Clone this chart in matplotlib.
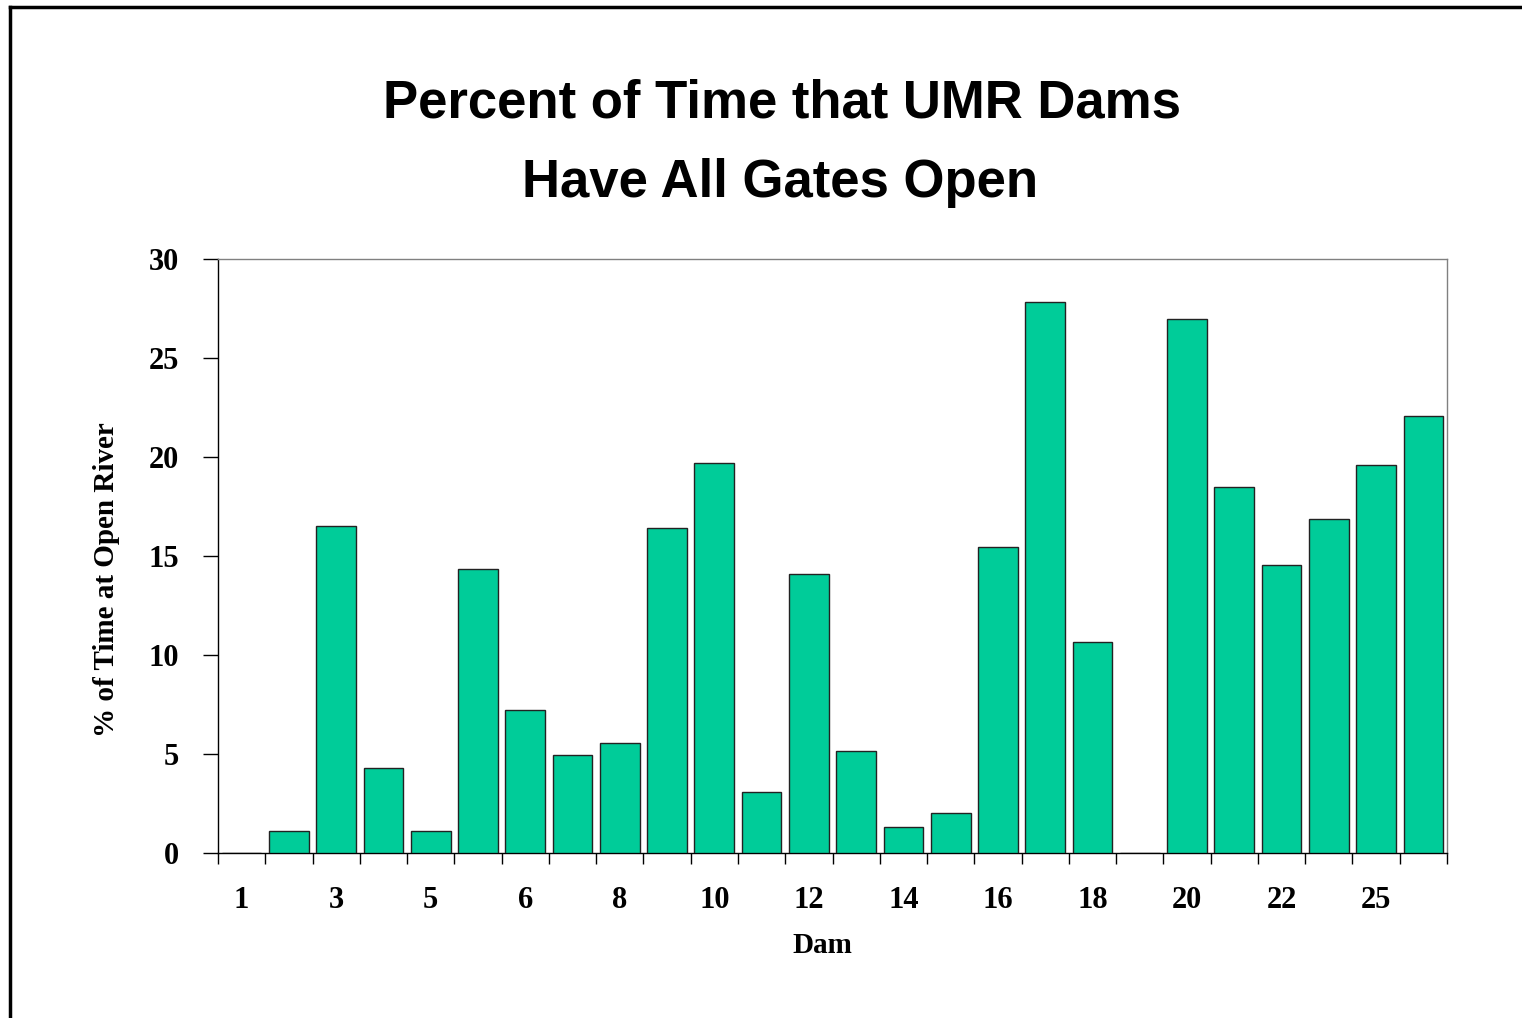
import matplotlib
matplotlib.use("Agg")
import matplotlib.pyplot as plt
import numpy as np
from matplotlib.lines import Line2D

# Dams along the Upper Mississippi River, upstream to downstream
dams = ["1", "2", "3", "4", "5", "5A", "6", "7", "8", "9", "10", "11", "12",
        "13", "14", "15", "16", "17", "18", "19", "20", "21", "22", "24", "25", "26"]
# percent of time at open river (all gates open)
pct_open = [0.0, 1.1, 16.5, 4.3, 1.1, 14.35, 7.2, 4.95, 5.55, 16.4, 19.7, 3.1, 14.1,
            5.15, 1.3, 2.0, 15.45, 27.85, 10.65, 0.0, 26.95, 18.5, 14.55, 16.85, 19.6, 22.05]
# only every other dam is labelled on the axis
shown = ["1", "3", "5", "6", "8", "10", "12", "14", "16", "18", "20", "22", "25"]

bar_color = "#00CC99"
serif = "Liberation Serif"
sans = "Liberation Sans"

fig = plt.figure(figsize=(15.22, 10.18), dpi=100)
ax = fig.add_axes([218 / 1522, 1 - 853 / 1018, (1447 - 218) / 1522, (853 - 259) / 1018])

x = np.arange(len(dams))
ax.bar(x, pct_open, width=0.84, color=bar_color, edgecolor="#222222", linewidth=1.0, zorder=3)

ax.set_xlim(-0.5, len(dams) - 0.5)
ax.set_ylim(0, 30)
ax.set_yticks(np.arange(0, 31, 5))

# labels under every other bar, tick marks between bars
ax.set_xticks([dams.index(d) for d in shown])
ax.set_xticklabels(shown)
ax.set_xticks(np.arange(-0.5, len(dams), 1.0), minor=True)
ax.tick_params(axis="x", which="major", length=0, pad=24)
ax.tick_params(axis="x", which="minor", length=8, width=1, direction="out", color="black")
ax.tick_params(axis="y", length=11, width=1, direction="out", pad=17)

for lab in ax.get_xticklabels() + ax.get_yticklabels():
    lab.set_fontfamily(serif)
    lab.set_fontweight("bold")
    lab.set_fontsize(22)

for side in ["top", "right"]:
    ax.spines[side].set_color("#808080")
for side in ["left", "bottom"]:
    ax.spines[side].set_color("black")
for s in ax.spines.values():
    s.set_linewidth(1.0)

ax.set_xlabel("Dam", fontfamily=serif, fontweight="bold", fontsize=21, va="center")
ax.xaxis.set_label_coords(0.492, -0.155)
ax.set_ylabel("% of Time at Open River", fontfamily=serif, fontweight="bold",
              fontsize=21, va="center")
ax.yaxis.set_label_coords(-0.0905, 0.46)

fig.text(782 / 1522, 1 - 104 / 1018, "Percent of Time that UMR Dams", ha="center", va="center",
         fontfamily=sans, fontweight="bold", fontsize=38)
fig.text(780 / 1522, 1 - 183 / 1018, "Have All Gates Open", ha="center", va="center",
         fontfamily=sans, fontweight="bold", fontsize=38)

# frame along the left and top edges of the page
fig.add_artist(Line2D([10 / 1522, 10 / 1522], [0, 1 - 7 / 1018], transform=fig.transFigure,
                      color="black", linewidth=2.5))
fig.add_artist(Line2D([10 / 1522, 1], [1 - 7 / 1018, 1 - 7 / 1018], transform=fig.transFigure,
                      color="black", linewidth=2.5))

fig.savefig("out.png", dpi=100)
